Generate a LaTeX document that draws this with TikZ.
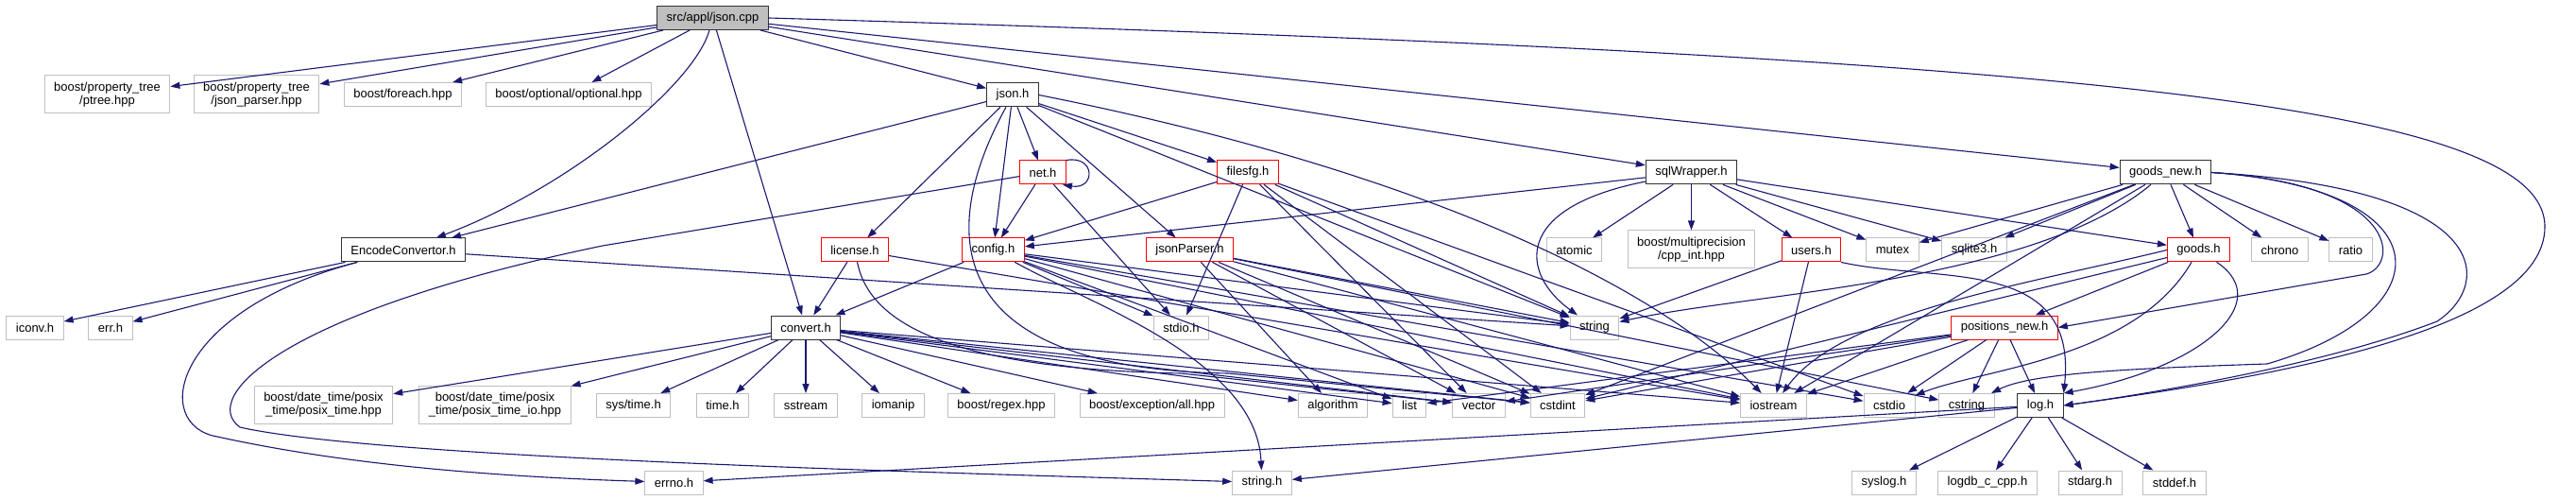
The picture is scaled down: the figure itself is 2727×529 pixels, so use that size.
\documentclass[tikz,border=0pt]{standalone}
\usepackage{fontspec}
\setmainfont{Liberation Sans}
\usetikzlibrary{arrows.meta}
\definecolor{inclblue}{HTML}{191970}
\definecolor{extgray}{HTML}{BFBFBF}
\tikzstyle{every node}=[font=\fontsize{13}{14}\selectfont]
\tikzstyle{hfile}=[rectangle, line width=1pt, inner xsep=10pt, inner ysep=0pt, minimum height=25pt, align=center]
\tikzstyle{extfile}=[hfile, draw=extgray]
\tikzstyle{cutfile}=[hfile, draw=red]
\tikzstyle{projfile}=[hfile, draw=black!80]
\tikzstyle{rootfile}=[hfile, draw=black!80, fill=extgray]
\tikzstyle{incl}=[draw=inclblue, line width=1.1pt, line cap=round, -{Triangle[length=10pt,width=7pt]}]

\begin{document}
\begin{tikzpicture}[x=1pt,y=-1pt]
\useasboundingbox (0,0) rectangle (2727,529);
% top level
\node[rootfile] (root) at (754.5,19) {src/appl/json.cpp};
\node[extfile, minimum height=40pt] (ptree) at (113.5,100) {boost/property\_tree\\/ptree.hpp};
\node[extfile, minimum height=40pt] (jparser) at (271.5,100) {boost/property\_tree\\/json\_parser.hpp};
\node[extfile] (foreach) at (426.5,100) {boost/foreach.hpp};
\node[extfile] (optional) at (602,100) {boost/optional/optional.hpp};
\node[projfile] (jsonh) at (1072,100.5) {json.h};
% second level
\node[cutfile] (net) at (1104,182.5) {net.h};
\node[cutfile] (filesfg) at (1321,182.5) {filesfg.h};
\node[projfile] (sqlw) at (1790.5,182.5) {sqlWrapper.h};
\node[projfile] (goodsnew) at (2292.5,182.5) {goods\_new.h};
% third level
\node[projfile] (encode) at (427,264.5) {EncodeConvertor.h};
\node[cutfile] (license) at (905,264.5) {license.h};
\node[cutfile] (config) at (1051.5,264.5) {config.h};
\node[cutfile] (jsonparser) at (1259.5,264.5) {jsonParser.h};
\node[extfile] (atomic) at (1666.5,264.5) {atomic};
\node[extfile, minimum height=40pt] (multiprec) at (1790.5,264) {boost/multiprecision\\/cpp\_int.hpp};
\node[cutfile] (users) at (1917.5,264.5) {users.h};
\node[extfile] (mutex) at (2003.5,264.5) {mutex};
\node[extfile] (sqlite) at (2090,264.5) {sqlite3.h};
\node[cutfile] (goods) at (2327.5,264.5) {goods.h};
\node[extfile] (chrono) at (2413.5,264.5) {chrono};
\node[extfile] (ratio) at (2488.5,264.5) {ratio};
% fourth level
\node[extfile] (iconv) at (37,346.5) {iconv.h};
\node[extfile] (err) at (117,346.5) {err.h};
\node[projfile] (convert) at (853,346.5) {convert.h};
\node[extfile] (stdio) at (1250.5,346.5) {stdio.h};
\node[extfile] (string) at (1688,346.5) {string};
\node[cutfile] (posnew) at (2122,346.5) {positions\_new.h};
% fifth level
\node[extfile, minimum height=40pt] (posixtime) at (342.5,428.5) {boost/date\_time/posix\\\_time/posix\_time.hpp};
\node[extfile, minimum height=40pt] (posixio) at (524,428.5) {boost/date\_time/posix\\\_time/posix\_time\_io.hpp};
\node[extfile] (systime) at (670.5,429) {sys/time.h};
\node[extfile] (timeh) at (765,429) {time.h};
\node[extfile] (sstream) at (853,429) {sstream};
\node[extfile] (iomanip) at (945.5,429) {iomanip};
\node[extfile] (regex) at (1060,429) {boost/regex.hpp};
\node[extfile] (exception) at (1219.5,429) {boost/exception/all.hpp};
\node[extfile] (algorithm) at (1411,429) {algorithm};
\node[extfile] (list) at (1492,429) {list};
\node[extfile] (vector) at (1565.5,429) {vector};
\node[extfile] (cstdint) at (1649,429) {cstdint};
\node[extfile] (iostream) at (1877.5,429) {iostream};
\node[extfile] (cstdio) at (2000,429) {cstdio};
\node[extfile] (cstring) at (2082,429) {cstring};
\node[projfile] (log) at (2160,429) {log.h};
% bottom level
\node[extfile] (errno) at (713.5,510.5) {errno.h};
\node[extfile] (stringh) at (1336,510.5) {string.h};
\node[extfile] (syslog) at (1994.5,510.5) {syslog.h};
\node[extfile] (logdb) at (2104,510.5) {logdb\_c\_cpp.h};
\node[extfile] (stdarg) at (2212.5,510.5) {stdarg.h};
\node[extfile] (stddef) at (2302,510.5) {stddef.h};

% includes of json.cpp
\foreach \t in {ptree,jparser,foreach,optional,convert,jsonh,sqlw,goodsnew}
  \draw[incl] (root) -- (\t);
\draw[incl] (root) .. controls (735,90) and (600,200) .. (encode);
\draw[incl] (root.east) .. controls (2200,60) and (2694,110) .. (2694,240) .. controls (2694,350) and (2400,400) .. (log.east);
% includes of json.h
\foreach \t in {encode,license,config,net,jsonparser,filesfg,string}
  \draw[incl] (jsonh) -- (\t);
\draw[incl] (jsonh.east) .. controls (1500,180) and (1750,300) .. (iostream);
\draw[incl] (jsonh) .. controls (990,250) and (1000,390) .. (1300,395) -- (cstdint);
% net.h
\foreach \t in {config,stdio}
  \draw[incl] (net) -- (\t);
\draw[incl] (net.north east) .. controls (1160,164) and (1160,201) .. ([xshift=-4pt]net.south east);
\draw[incl] (net) -- (638,260) .. controls (300,330) and (210,420) .. (254,452) .. controls (400,485) and (1000,500) .. (stringh);
% filesfg.h
\foreach \t in {config,stdio,string,vector,cstdint,cstdio}
  \draw[incl] (filesfg) -- (\t);
% license.h
\foreach \t in {convert,iostream}
  \draw[incl] (license) -- (\t);
\draw[incl] (license) .. controls (920,340) and (1000,390) .. (1250,395) -- (vector);
% config.h
\foreach \t in {convert,stdio,string,list,cstdint,iostream,cstdio}
  \draw[incl] (config) -- (\t);
\draw[incl] (config) .. controls (1150,320) and (1330,380) .. (stringh);
% jsonParser.h
\foreach \t in {string,algorithm,vector,cstdint,iostream,cstring}
  \draw[incl] (jsonparser) -- (\t);
% sqlWrapper.h
\foreach \t in {config,atomic,multiprec,users,mutex,sqlite,goods}
  \draw[incl] (sqlw) -- (\t);
\draw[incl] (sqlw) .. controls (1600,220) and (1610,290) .. (string);
% users.h
\foreach \t in {string,iostream}
  \draw[incl] (users) -- (\t);
\draw[incl] (users.south east) .. controls (2050,300) and (2200,270) .. (log.north east);
% goods_new.h
\foreach \t in {mutex,sqlite,goods,chrono,ratio,iostream,cstdint}
  \draw[incl] (goodsnew) -- (\t);
\draw[incl] (goodsnew) .. controls (2150,300) and (1850,310) .. (string);
\draw[incl] (goodsnew.east) .. controls (2540,195) and (2540,280) .. (2505,290) -- (posnew.east);
\draw[incl] (goodsnew.east) .. controls (2590,200) and (2590,330) .. (2400,385) .. controls (2250,390) and (2150,395) .. (cstring);
\draw[incl] (goodsnew.east) .. controls (2640,200) and (2640,300) .. (2580,340) .. controls (2450,390) and (2250,420) .. (log.east);
% goods.h
\foreach \t in {posnew,cstdint}
  \draw[incl] (goods) -- (\t);
\draw[incl] (goods.west) .. controls (2150,300) and (1950,330) .. (iostream);
\draw[incl] (goods) .. controls (2260,380) and (2100,390) .. (cstdio);
\draw[incl] (goods) .. controls (2410,320) and (2330,390) .. (log.north east);
% positions_new.h
\foreach \t in {list,vector,cstdint,iostream,cstdio,cstring,log}
  \draw[incl] (posnew) -- (\t);
% convert.h
\foreach \t in {posixtime,posixio,systime,timeh,sstream,iomanip,regex,exception,algorithm,list,vector,cstdint,iostream}
  \draw[incl] (convert) -- (\t);
% EncodeConvertor.h
\foreach \t in {iconv,err,string}
  \draw[incl] (encode) -- (\t);
\draw[incl] (encode) .. controls (180,330) and (160,450) .. (230,462) .. controls (380,495) and (550,505) .. (errno);
% log.h
\foreach \t in {errno,stringh,syslog,logdb,stdarg,stddef}
  \draw[incl] (log) -- (\t);
\end{tikzpicture}
\end{document}
